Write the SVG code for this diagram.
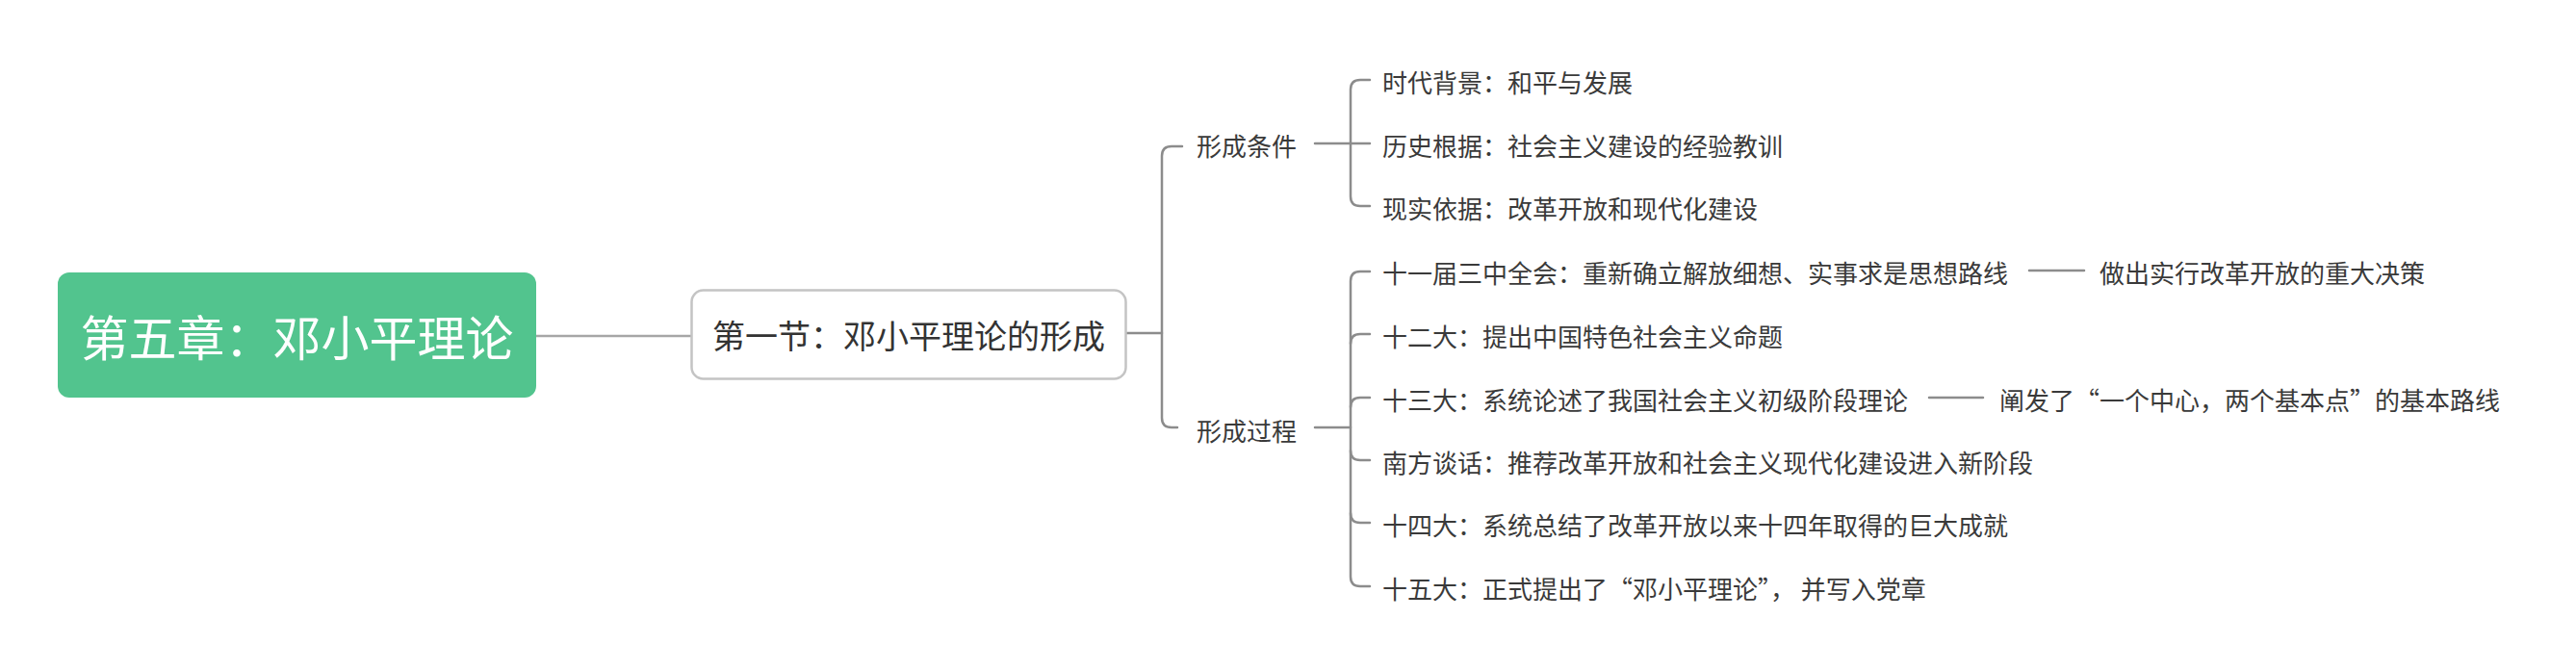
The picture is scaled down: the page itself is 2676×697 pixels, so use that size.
<svg xmlns="http://www.w3.org/2000/svg" width="2676" height="697" viewBox="0 0 2676 697">
<style>
text{font-family:"Noto Sans CJK SC","Microsoft YaHei",sans-serif;dominant-baseline:central}
.leaf{font-size:26px;fill:#3a3a3a}
.c{fill:none;stroke:#8c8c8c;stroke-width:2.5;stroke-linecap:round}
.c0{fill:none;stroke:#a6a6a6;stroke-width:2.5}
</style>
<rect width="2676" height="697" fill="#ffffff"/>
<g id="connectors">
<path class="c0" d="M557 349 H718"/>
<path class="c" d="M1170 346 H1207"/>
<path class="c" d="M1228 152 H1217 Q1207 152 1207 162 V434 Q1207 444 1217 444 H1223"/>
<path class="c" d="M1366 149 H1403"/>
<path class="c" d="M1423 83 H1413 Q1403 83 1403 93 V204 Q1403 214 1413 214 H1423"/>
<path class="c" d="M1403 149 H1423"/>
<path class="c" d="M1366 444 H1403"/>
<path class="c" d="M1423 282 H1413 Q1403 282 1403 292 V599 Q1403 609 1413 609 H1423"/>
<path class="c" d="M1423 347 H1413 Q1403 347 1403 357"/>
<path class="c" d="M1423 413 H1413 Q1403 413 1403 423"/>
<path class="c" d="M1423 478 H1413 Q1403 478 1403 468"/>
<path class="c" d="M1423 543 H1413 Q1403 543 1403 533"/>
<path class="c" d="M2108 281 H2165"/>
<path class="c" d="M2004 413 H2060"/>
</g>
<g id="root">
<rect x="60" y="283" width="497" height="130" rx="12" fill="#52c48e"/>
<text x="308.5" y="348" font-size="50" fill="#ffffff" text-anchor="middle">第五章：邓小平理论</text>
</g>
<g id="section1">
<rect x="718.5" y="301.5" width="451" height="92" rx="12" fill="#ffffff" stroke="#c4c4c4" stroke-width="2.5"/>
<text x="944" y="347" font-size="34" fill="#333333" text-anchor="middle">第一节：邓小平理论的形成</text>
</g>
<g id="conditions"><text class="leaf" x="1243" y="150">形成条件</text></g>
<g id="process"><text class="leaf" x="1243" y="446">形成过程</text></g>
<g id="c1"><text class="leaf" x="1436" y="84">时代背景：和平与发展</text></g>
<g id="c2"><text class="leaf" x="1436" y="150">历史根据：社会主义建设的经验教训</text></g>
<g id="c3"><text class="leaf" x="1436" y="215">现实依据：改革开放和现代化建设</text></g>
<g id="p1"><text class="leaf" x="1436" y="282">十一届三中全会：重新确立解放细想、实事求是思想路线</text></g>
<g id="p1a"><text class="leaf" x="2181" y="282">做出实行改革开放的重大决策</text></g>
<g id="p2"><text class="leaf" x="1436" y="348">十二大：提出中国特色社会主义命题</text></g>
<g id="p3"><text class="leaf" x="1436" y="414">十三大：系统论述了我国社会主义初级阶段理论</text></g>
<g id="p3a"><text class="leaf" x="2077" y="414">阐发了“一个中心，两个基本点”的基本路线</text></g>
<g id="p4"><text class="leaf" x="1436" y="479">南方谈话：推荐改革开放和社会主义现代化建设进入新阶段</text></g>
<g id="p5"><text class="leaf" x="1436" y="544">十四大：系统总结了改革开放以来十四年取得的巨大成就</text></g>
<g id="p6"><text class="leaf" x="1436" y="610" xml:space="preserve">十五大：正式提出了“邓小平理论”， 并写入党章</text></g>
</svg>
